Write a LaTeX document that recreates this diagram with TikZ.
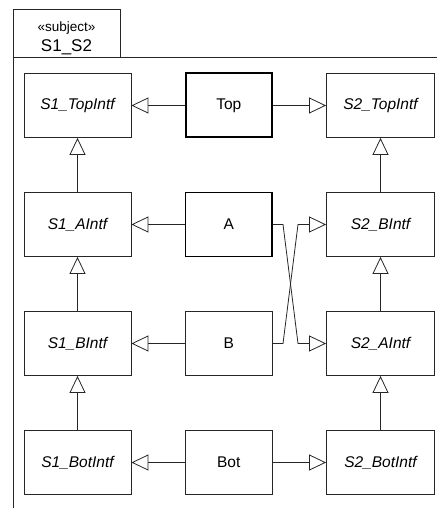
\documentclass[tikz,border=0pt]{standalone}
\usepackage{fontspec}
\setmainfont{Liberation Sans}
\usetikzlibrary{arrows.meta}
\tikzset{
  x=1bp, y=-1bp,
  ln/.style={draw=black!85, line width=0.8bp},
  ifbox/.style={ln, minimum height=64bp, inner sep=0pt, font=\fontsize{15.5bp}{18bp}\selectfont\itshape},
  lbox/.style={ifbox, minimum width=107bp},
  rbox/.style={ifbox, minimum width=108bp},
  cbox/.style={ln, minimum width=86.5bp, minimum height=64bp, inner sep=0pt, font=\fontsize{15.5bp}{18bp}\selectfont},
  gen/.style={ln, -{Triangle[open, length=17bp, width=16bp]}},
  lbl/.style={inner sep=0pt},
}
\begin{document}
\begin{tikzpicture}
\useasboundingbox (0,0) rectangle (437,508);
% frame
\node[ln, minimum width=107bp, minimum height=48bp, inner sep=0pt, anchor=north west] (tab) at (13,9) {};
\node[lbl, font=\fontsize{13.5bp}{15bp}\selectfont] (stereo) at (66.5,28) {«subject»};
\node[lbl, font=\fontsize{17bp}{18bp}\selectfont] (tabname) at (66.5,47) {S1\_S2};
\coordinate (fr) at (437,57);
\coordinate (fl) at (13,57);
\coordinate (fb) at (13,508);
\draw[ln] (fr) -- (fl) -- (fb);
% boxes
\node[lbox] (S1T) at (77.5,105.5) {S1\_TopIntf};
\node[lbox] (S1A) at (77.5,224.5) {S1\_AIntf};
\node[lbox] (S1B) at (77.5,343.5) {S1\_BIntf};
\node[lbox] (S1Bot) at (77.5,462.5) {S1\_BotIntf};
\node[rbox] (S2T) at (380.5,105.5) {S2\_TopIntf};
\node[rbox] (S2B) at (380.5,224.5) {S2\_BIntf};
\node[rbox] (S2A) at (380.5,343.5) {S2\_AIntf};
\node[rbox] (S2Bot) at (380.5,462.5) {S2\_BotIntf};
\node[cbox, line width=2bp, draw=black] (Top) at (228.75,105.5) {Top};
\node[cbox, line width=1.4bp, draw=black] (A) at (228.75,224.5) {A};
\node[cbox] (B) at (228.75,343.5) {B};
\node[cbox] (Bot) at (228.75,462.5) {Bot};
% vertical generalizations
\draw[gen] (S1A) -- (S1T);
\draw[gen] (S1B) -- (S1A);
\draw[gen] (S1Bot) -- (S1B);
\draw[gen] (S2B) -- (S2T);
\draw[gen] (S2A) -- (S2B);
\draw[gen] (S2Bot) -- (S2A);
% horizontal
\draw[gen] (Top) -- (S1T);
\draw[gen] (Top) -- (S2T);
\draw[gen] (A) -- (S1A);
\draw[gen] (B) -- (S1B);
\draw[gen] (Bot) -- (S1Bot);
\draw[gen] (Bot) -- (S2Bot);
% crossing
\coordinate (a1) at (283,224.5);
\coordinate (a2) at (298,343.5);
\coordinate (b1) at (283,343.5);
\coordinate (b2) at (298,224.5);
\draw[gen] (A.east) -- (a1) -- (a2) -- (S2A.west);
\draw[gen] (B.east) -- (b1) -- (b2) -- (S2B.west);
\end{tikzpicture}
\end{document}
